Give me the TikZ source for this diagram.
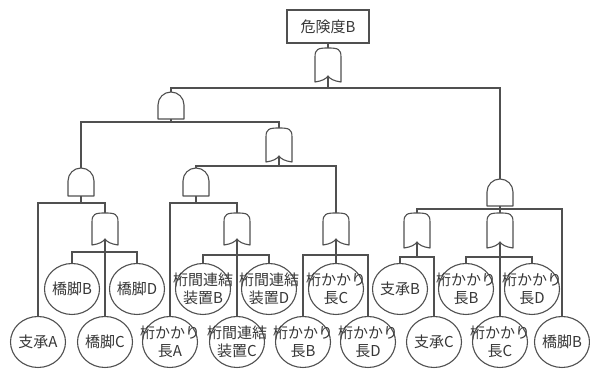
\documentclass[tikz,border=0pt]{standalone}
\usepackage{fontspec}
\newfontfamily\jp{Noto Sans CJK JP}
\usetikzlibrary{shapes.geometric,calc}
\definecolor{linec}{RGB}{80,80,80}
\definecolor{textc}{RGB}{55,55,55}
\newcommand\orgate[1]{%
  \draw[gateline] (#1.south west) -- ($(#1.north west)+(0,-9)$)
    .. controls ($(#1.north west)+(0,-1)$) and ($(#1.north)+(-10,0)$) .. (#1.north)
    .. controls ($(#1.north)+(10,0)$) and ($(#1.north east)+(0,-1)$) .. ($(#1.north east)+(0,-9)$)
    -- (#1.south east)
    .. controls ($(#1.south east)+(-7,1)$) and ($(#1.south)+(2,3)$) .. ($(#1.south)+(0,6)$)
    .. controls ($(#1.south)+(-2,3)$) and ($(#1.south west)+(7,1)$) .. (#1.south west) -- cycle;
  \draw[gateline] ($(#1.south)+(0,6)$) -- (#1.south);}
\newcommand\andgate[1]{%
  \draw[gateline] (#1.south west) -- (#1.south east) -- ($(#1.north east)+(0,-13)$)
    arc[start angle=0, end angle=180, radius=13] -- cycle;}
\begin{document}
\begin{tikzpicture}[x=1pt,y=1pt,
  wire/.style={draw=linec,line width=1.1pt},
  gateline/.style={draw=linec,line width=1.1pt,fill=white,line join=round},
  gate/.style={rectangle,minimum width=26pt,inner sep=0pt,outer sep=0pt},
  lbl/.style={align=center,font=\jp\fontsize{15}{18}\selectfont,inner sep=0pt,text=textc},
  ev/.style={ellipse,draw=linec,line width=1.1pt,fill=white,minimum width=55pt,minimum height=51pt,inner sep=0pt},
  topbox/.style={rectangle,draw=linec,line width=1.1pt,minimum width=82pt,minimum height=33pt,inner sep=0pt,font=\jp\fontsize{15}{18}\selectfont,text=textc}]
\useasboundingbox (0,0) rectangle (590,371);

% top event
\node[topbox] (top) at (328,344.5) {危険度B};

% gates
\node[gate,minimum height=34pt] (g0) at (328,306) {};
\node[gate,minimum height=27pt] (g1) at (171,265.5) {};
\node[gate,minimum height=34pt] (g2) at (279,226) {};
\node[gate,minimum height=28pt] (g3) at (81,189) {};
\node[gate,minimum height=28pt] (g4) at (196,189) {};
\node[gate,minimum height=32pt] (g5) at (105,142) {};
\node[gate,minimum height=32pt] (g6) at (237,142) {};
\node[gate,minimum height=32pt] (g7) at (336,142) {};
\node[gate,minimum height=27pt] (g8) at (500,178.5) {};
\node[gate,minimum height=35pt] (g9) at (417,140.5) {};
\node[gate,minimum height=35pt] (g10) at (500,140.5) {};

% basic events, upper row
\node[ev,label={[lbl]center:橋脚B}] (kyB) at (72,82) {};
\node[ev,label={[lbl]center:橋脚D}] (kyD) at (137,82) {};
\node[ev,label={[lbl]center:{桁間連結\\装置B}}] (rsB) at (203,82) {};
\node[ev,label={[lbl]center:{桁間連結\\装置D}}] (rsD) at (269,82) {};
\node[ev,label={[lbl]center:{桁かかり\\長C}}] (kaC) at (336,82) {};
\node[ev,label={[lbl]center:支承B}] (shB) at (400,82) {};
\node[ev,label={[lbl]center:{桁かかり\\長B}}] (kaB2) at (466,82) {};
\node[ev,label={[lbl]center:{桁かかり\\長D}}] (kaD2) at (532,82) {};

% basic events, lower row
\node[ev,label={[lbl]center:支承A}] (shA) at (38,29) {};
\node[ev,label={[lbl]center:橋脚C}] (kyC) at (105,29) {};
\node[ev,label={[lbl]center:{桁かかり\\長A}}] (kaA) at (170,29) {};
\node[ev,label={[lbl]center:{桁間連結\\装置C}}] (rsC) at (237,29) {};
\node[ev,label={[lbl]center:{桁かかり\\長B}}] (kaB) at (303,29) {};
\node[ev,label={[lbl]center:{桁かかり\\長D}}] (kaD) at (368,29) {};
\node[ev,label={[lbl]center:支承C}] (shC) at (434,29) {};
\node[ev,label={[lbl]center:{桁かかり\\長C}}] (kaC2) at (500,29) {};
\node[ev,label={[lbl]center:橋脚B}] (kyB2) at (562,29) {};

% connectors
\draw[wire] (top.south) -- (g0.north);
\draw[wire] (g0.south) -- (g0.south |- 0,283);
\draw[wire] (g1.north) |- (g8.north |- 0,283) -- (g8.north);

\draw[wire] (g1.south) -- (g1.south |- 0,249);
\draw[wire] (g3.north) |- (g2.north |- 0,249) -- (g2.north);

\draw[wire] (g3.south) -- (g3.south |- 0,168);
\draw[wire] (shA.north) |- (g5.north |- 0,168) -- (g5.north);

\draw[wire] (g5.south) -- (kyC.north);
\draw[wire] (kyB.north) |- (kyD.north |- 0,119) -- (kyD.north);

\draw[wire] (g2.south) -- (g2.south |- 0,205);
\draw[wire] (g4.north) |- (g7.north |- 0,205) -- (g7.north);

\draw[wire] (g4.south) -- (g4.south |- 0,168);
\draw[wire] (kaA.north) |- (g6.north |- 0,168) -- (g6.north);

\draw[wire] (g6.south) -- (rsC.north);
\draw[wire] (rsB.north) |- (rsD.north |- 0,116) -- (rsD.north);

\draw[wire] (g7.south) -- (kaC.north);
\draw[wire] (kaB.north) |- (kaD.north |- 0,116) -- (kaD.north);

\draw[wire] (g8.south) -- (g10.north);
\draw[wire] (g9.north) |- (kyB2.north |- 0,162) -- (kyB2.north);

\draw[wire] (g9.south) -- (g9.south |- 0,114);
\draw[wire] (shB.north) |- (shC.north |- 0,114) -- (shC.north);

\draw[wire] (g10.south) -- (kaC2.north);
\draw[wire] (kaB2.north) |- (kaD2.north |- 0,114) -- (kaD2.north);

% gate symbols
\orgate{g0}
\andgate{g1}
\orgate{g2}
\andgate{g3}
\andgate{g4}
\orgate{g5}
\orgate{g6}
\orgate{g7}
\andgate{g8}
\orgate{g9}
\orgate{g10}
\end{tikzpicture}
\end{document}
